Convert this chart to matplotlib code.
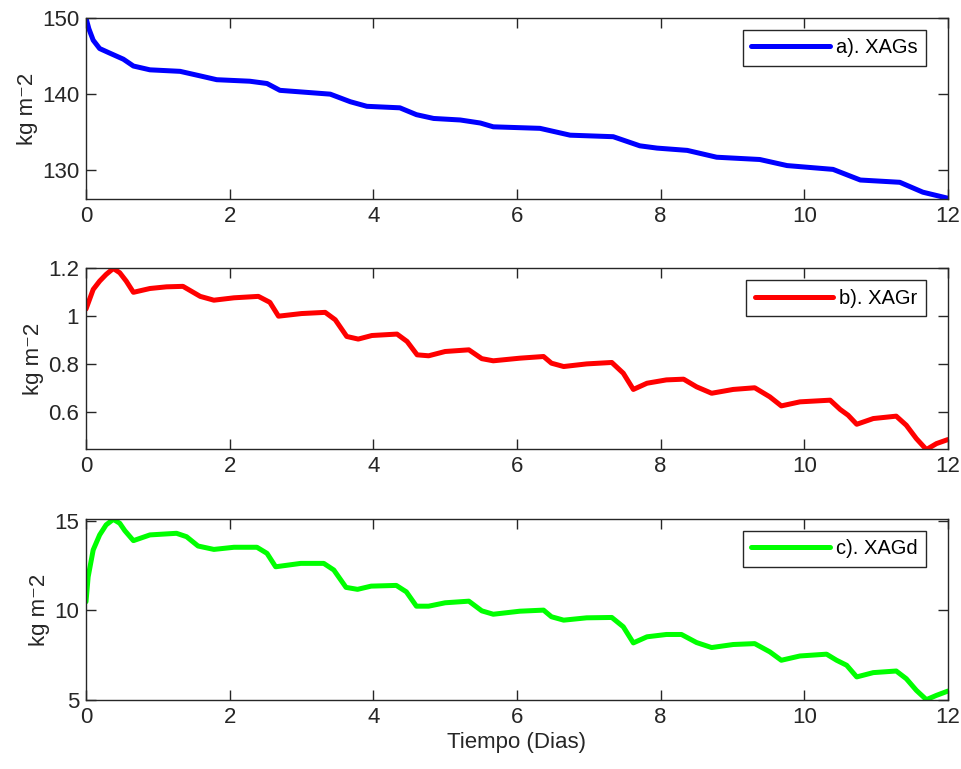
import numpy as np
import matplotlib.pyplot as plt

plt.rcParams['font.family'] = ['Liberation Sans', 'DejaVu Sans']

# a). XAGs
t_s = [0, 0.04, 0.1, 0.19, 0.33, 0.52, 0.66, 0.89, 1.31, 1.59, 1.82, 2.28, 2.52, 2.70, 2.98,
       3.40, 3.68, 3.91, 4.37, 4.60, 4.84, 5.21, 5.49, 5.67, 6.32, 6.74, 7.34, 7.71,
       7.95, 8.37, 8.78, 9.38, 9.76, 10.4, 10.78, 11.33, 11.65, 12.0]
xags = [150.0, 148.6, 147.1, 146.0, 145.4, 144.6, 143.7, 143.2, 143.0, 142.4, 141.9, 141.7,
        141.4, 140.5, 140.3, 140.0, 139.0, 138.4, 138.2, 137.3, 136.8, 136.6, 136.2,
        135.7, 135.5, 134.6, 134.4, 133.2, 132.9, 132.6, 131.7, 131.4, 130.6, 130.1,
        128.7, 128.4, 127.1, 126.3]

# b). XAGr
t_r = [0, 0.1, 0.19, 0.28, 0.38, 0.47, 0.56, 0.66, 0.89, 1.12, 1.35, 1.59, 1.78, 2.06,
       2.40, 2.56, 2.68, 3.0, 3.33, 3.47, 3.63, 3.79, 3.98, 4.33, 4.47, 4.61, 4.77,
       5.0, 5.33, 5.51, 5.67, 6.04, 6.37, 6.48, 6.65, 6.97, 7.32, 7.48, 7.62, 7.81,
       8.08, 8.32, 8.5, 8.71, 9.01, 9.31, 9.52, 9.68, 9.94, 10.36, 10.5, 10.61, 10.73,
       10.96, 11.28, 11.42, 11.56, 11.7, 11.84, 12.0]
xagr = [1.030, 1.112, 1.147, 1.175, 1.200, 1.182, 1.147, 1.100, 1.116, 1.123, 1.125,
        1.083, 1.067, 1.077, 1.083, 1.058, 1.000, 1.011, 1.016, 0.985, 0.915, 0.904,
        0.919, 0.925, 0.894, 0.838, 0.834, 0.852, 0.859, 0.822, 0.813, 0.824, 0.831,
        0.803, 0.789, 0.800, 0.806, 0.761, 0.693, 0.719, 0.733, 0.736, 0.704, 0.677,
        0.693, 0.700, 0.662, 0.624, 0.641, 0.648, 0.609, 0.585, 0.547, 0.571, 0.581,
        0.543, 0.487, 0.441, 0.466, 0.483]

# c). XAGd
t_d = [0, 0.03, 0.1, 0.19, 0.28, 0.38, 0.47, 0.54, 0.66, 0.89, 1.26, 1.40, 1.56, 1.78,
       2.06, 2.38, 2.52, 2.64, 2.99, 3.31, 3.45, 3.62, 3.78, 3.97, 4.32, 4.46, 4.60,
       4.77, 5.0, 5.33, 5.51, 5.67, 6.04, 6.37, 6.48, 6.65, 6.97, 7.32, 7.48, 7.62,
       7.81, 8.08, 8.29, 8.5, 8.71, 9.01, 9.31, 9.52, 9.68, 9.94, 10.31, 10.45, 10.59,
       10.73, 10.96, 11.28, 11.42, 11.56, 11.7, 11.84, 12.0]
xagd = [10.49, 11.88, 13.38, 14.22, 14.78, 15.09, 14.87, 14.46, 13.90, 14.22, 14.31,
        14.12, 13.60, 13.41, 13.53, 13.53, 13.19, 12.44, 12.63, 12.63, 12.26, 11.29,
        11.18, 11.36, 11.40, 11.04, 10.24, 10.24, 10.43, 10.52, 9.98, 9.79, 9.96,
        10.02, 9.65, 9.46, 9.59, 9.61, 9.09, 8.19, 8.53, 8.66, 8.66, 8.21, 7.93, 8.10,
        8.15, 7.69, 7.22, 7.46, 7.56, 7.22, 6.94, 6.29, 6.53, 6.62, 6.19, 5.54, 5.02,
        5.26, 5.50]

series = [
    (t_s, xags, '#0000ff', 'a). XAGs', (126.2, 150), [130, 140, 150], ['130', '140', '150']),
    (t_r, xagr, '#ff0000', 'b). XAGr', (0.442, 1.2), [0.6, 0.8, 1.0, 1.2], ['0.6', '0.8', '1', '1.2']),
    (t_d, xagd, '#00ff00', 'c). XAGd', (5, 15.1), [5, 10, 15], ['5', '10', '15']),
]
bottoms = [0.7412, 0.4157, 0.0897]

fig = plt.figure(figsize=(9.62, 7.69), dpi=100)
edge = '#262626'
for (t, y, c, lab, yl, yt, ytl), b in zip(series, bottoms):
    ax = fig.add_axes([0.0894, b, 0.896, 0.2352])
    ax.plot(t, y, color=c, lw=3.6, label=lab, solid_joinstyle='round', solid_capstyle='round')
    ax.set_xlim(0, 12)
    ax.set_ylim(*yl)
    ax.set_xticks([0, 2, 4, 6, 8, 10, 12])
    ax.set_yticks(yt)
    ax.set_yticklabels(ytl)
    ax.tick_params(direction='in', length=7, width=1, top=True, right=True,
                   labelsize=16, colors=edge, labelcolor='#262626', pad=5)
    for s in ax.spines.values():
        s.set_color(edge)
        s.set_linewidth(1)
    ax.set_ylabel('kg m\u207b2', fontsize=16, color='#262626', labelpad=3)
    leg = ax.legend(loc='upper right', bbox_to_anchor=(0.9745, 0.935), fontsize=14.5,
                    handlelength=3.9, fancybox=False, framealpha=1,
                    borderpad=0.42, handletextpad=0.3, borderaxespad=0)
    leg.get_frame().set_edgecolor(edge)
    leg.get_frame().set_linewidth(1)

ax.set_xlabel('Tiempo (Dias)', fontsize=16, color='#262626', labelpad=3)

fig.savefig('out.png', dpi=100)
